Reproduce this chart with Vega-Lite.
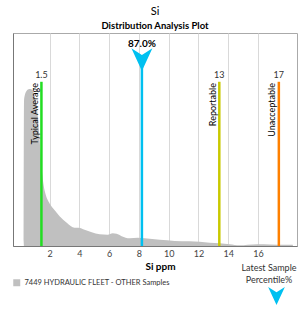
{
  "$schema": "https://vega.github.io/schema/vega-lite/v6.json",
  "autosize": "none",
  "width": 284,
  "height": 213,
  "padding": {"left": 13, "top": 33, "right": 11, "bottom": 64},
  "background": "white",
  "config": {
    "font": "Lato",
    "view": {"stroke": "#aaaaaa", "strokeWidth": 1}
  },
  "title": {
    "text": "Si",
    "subtitle": "Distribution Analysis Plot",
    "font": "Lato",
    "fontSize": 11,
    "fontWeight": "normal",
    "color": "#000000",
    "subtitleFont": "Lato",
    "subtitleFontSize": 9.5,
    "subtitleFontWeight": "bold",
    "subtitleColor": "#000000",
    "subtitlePadding": 4,
    "anchor": "middle",
    "offset": 3
  },
  "datasets": {
    "dens": [
      {"x": 0.27, "y": 0}, {"x": 0.28, "y": 0.68}, {"x": 0.35, "y": 0.712}, {"x": 0.45, "y": 0.728},
      {"x": 0.58, "y": 0.736}, {"x": 0.7, "y": 0.737}, {"x": 0.82, "y": 0.733}, {"x": 0.93, "y": 0.718},
      {"x": 1.06, "y": 0.685}, {"x": 1.2, "y": 0.614}, {"x": 1.33, "y": 0.497}, {"x": 1.47, "y": 0.365},
      {"x": 1.6, "y": 0.285}, {"x": 1.73, "y": 0.243}, {"x": 2.0, "y": 0.2}, {"x": 2.34, "y": 0.168},
      {"x": 2.67, "y": 0.14}, {"x": 3.15, "y": 0.109}, {"x": 3.68, "y": 0.086}, {"x": 3.95, "y": 0.086},
      {"x": 4.35, "y": 0.076}, {"x": 4.83, "y": 0.064}, {"x": 5.36, "y": 0.055}, {"x": 5.9, "y": 0.053},
      {"x": 6.24, "y": 0.06}, {"x": 6.5, "y": 0.057}, {"x": 6.84, "y": 0.046}, {"x": 7.38, "y": 0.036},
      {"x": 7.92, "y": 0.039}, {"x": 8.39, "y": 0.036}, {"x": 9.4, "y": 0.029}, {"x": 10.4, "y": 0.024},
      {"x": 11.4, "y": 0.022}, {"x": 12.08, "y": 0.02}, {"x": 12.75, "y": 0.015}, {"x": 13.42, "y": 0.013},
      {"x": 14.1, "y": 0.008}, {"x": 14.77, "y": 0.003}, {"x": 15.3, "y": 0.006}, {"x": 15.98, "y": 0.008},
      {"x": 16.79, "y": 0.007}, {"x": 17.8, "y": 0.006}, {"x": 18.33, "y": 0.006}, {"x": 18.35, "y": 0}
    ],
    "limits": [
      {"name": "Typical Average", "pos": 1.45, "label": "1.5"},
      {"name": "Reportable", "pos": 13.4, "label": "13"},
      {"name": "Unacceptable", "pos": 17.4, "label": "17"}
    ],
    "latest": [
      {"marker": "Latest Sample Percentile%", "pos": 8.2, "pct": "87.0%"}
    ]
  },
  "layer": [
    {
      "data": {"name": "dens"},
      "transform": [{"calculate": "'7449 HYDRAULIC FLEET - OTHER Samples'", "as": "series"}],
      "mark": {"type": "area", "interpolate": "monotone", "opacity": 1},
      "encoding": {
        "x": {
          "field": "x", "type": "quantitative",
          "scale": {"domain": [-0.46, 18.62], "nice": false, "zero": false},
          "axis": {
            "title": "Si ppm", "values": [2, 4, 6, 8, 10, 12, 14, 16],
            "grid": true, "gridColor": "#d9d9d9", "ticks": false,
            "labelFont": "Lato", "labelFontSize": 9, "labelColor": "#444444", "labelPadding": 3,
            "titleFont": "Lato", "titleFontSize": 10, "titleFontWeight": "bold", "titleColor": "#000000",
            "titlePadding": 3, "titleX": 147, "domainColor": "#777777"
          }
        },
        "y": {
          "field": "y", "type": "quantitative",
          "scale": {"domain": [0, 1], "nice": false},
          "axis": {"title": null, "labels": false, "ticks": false, "grid": false, "domainColor": "#777777"}
        },
        "fill": {
          "field": "series", "type": "nominal",
          "scale": {"range": ["#c0c0c0"]},
          "legend": {
            "title": null, "orient": "none", "legendX": 0, "legendY": 246,
            "symbolType": "square", "symbolSize": 49, "symbolStrokeWidth": 0,
            "labelFont": "Lato", "labelFontSize": 7.5, "labelColor": "#333333", "padding": 0
          }
        }
      }
    },
    {
      "data": {"name": "limits"},
      "mark": {"type": "rule", "strokeWidth": 2.5},
      "encoding": {
        "x": {"field": "pos", "type": "quantitative"},
        "y": {"datum": 0},
        "y2": {"datum": 0.771},
        "stroke": {
          "field": "name", "type": "nominal",
          "scale": {"domain": ["Typical Average", "Reportable", "Unacceptable"], "range": ["#22dd22", "#c9c900", "#ff8000"]},
          "legend": null
        }
      }
    },
    {
      "data": {"name": "limits"},
      "mark": {"type": "text", "font": "Lato", "fontSize": 9, "color": "#333333", "baseline": "middle", "align": "center"},
      "encoding": {
        "x": {"field": "pos", "type": "quantitative"},
        "y": {"datum": 0.8025},
        "text": {"field": "label"}
      }
    },
    {
      "data": {"name": "limits"},
      "mark": {"type": "text", "font": "Lato", "fontSize": 9, "color": "#000000", "angle": 270, "align": "right", "baseline": "bottom", "dy": -1.5},
      "encoding": {
        "x": {"field": "pos", "type": "quantitative"},
        "y": {"datum": 0.765},
        "text": {"field": "name"}
      }
    },
    {
      "data": {"name": "latest"},
      "mark": {"type": "rule", "strokeWidth": 2.5, "color": "#00c0f0"},
      "encoding": {
        "x": {"field": "pos", "type": "quantitative"},
        "y": {"datum": 0},
        "y2": {"datum": 0.875}
      }
    },
    {
      "data": {"name": "latest"},
      "mark": {"type": "point", "filled": true, "color": "#00c0f0", "opacity": 1, "size": 441, "strokeWidth": 0},
      "encoding": {
        "x": {"field": "pos", "type": "quantitative"},
        "y": {"datum": 0.875},
        "shape": {
          "field": "marker", "type": "nominal",
          "scale": {"range": ["M-1,-1.08L0,-0.45L1,-1.08L0,1.08Z"]},
          "legend": {
            "title": ["Latest Sample", "Percentile%"], "orient": "none", "legendX": 228, "legendY": 231,
            "titleFont": "Lato", "titleFontSize": 9, "titleFontWeight": "normal", "titleColor": "#333333",
            "titleAlign": "center", "titleAnchor": "middle", "titleLineHeight": 11.5, "titlePadding": 3,
            "labelExpr": "''", "labelFontSize": 1, "symbolSize": 280, "symbolFillColor": "#00c0f0", "symbolStrokeWidth": 0,
            "symbolOffset": 19, "padding": 0
          }
        }
      }
    },
    {
      "data": {"name": "latest"},
      "mark": {"type": "text", "font": "Lato", "fontSize": 10, "fontWeight": "bold", "color": "#000000", "baseline": "middle", "align": "center"},
      "encoding": {
        "x": {"field": "pos", "type": "quantitative"},
        "y": {"datum": 0.949},
        "text": {"field": "pct"}
      }
    }
  ]
}
